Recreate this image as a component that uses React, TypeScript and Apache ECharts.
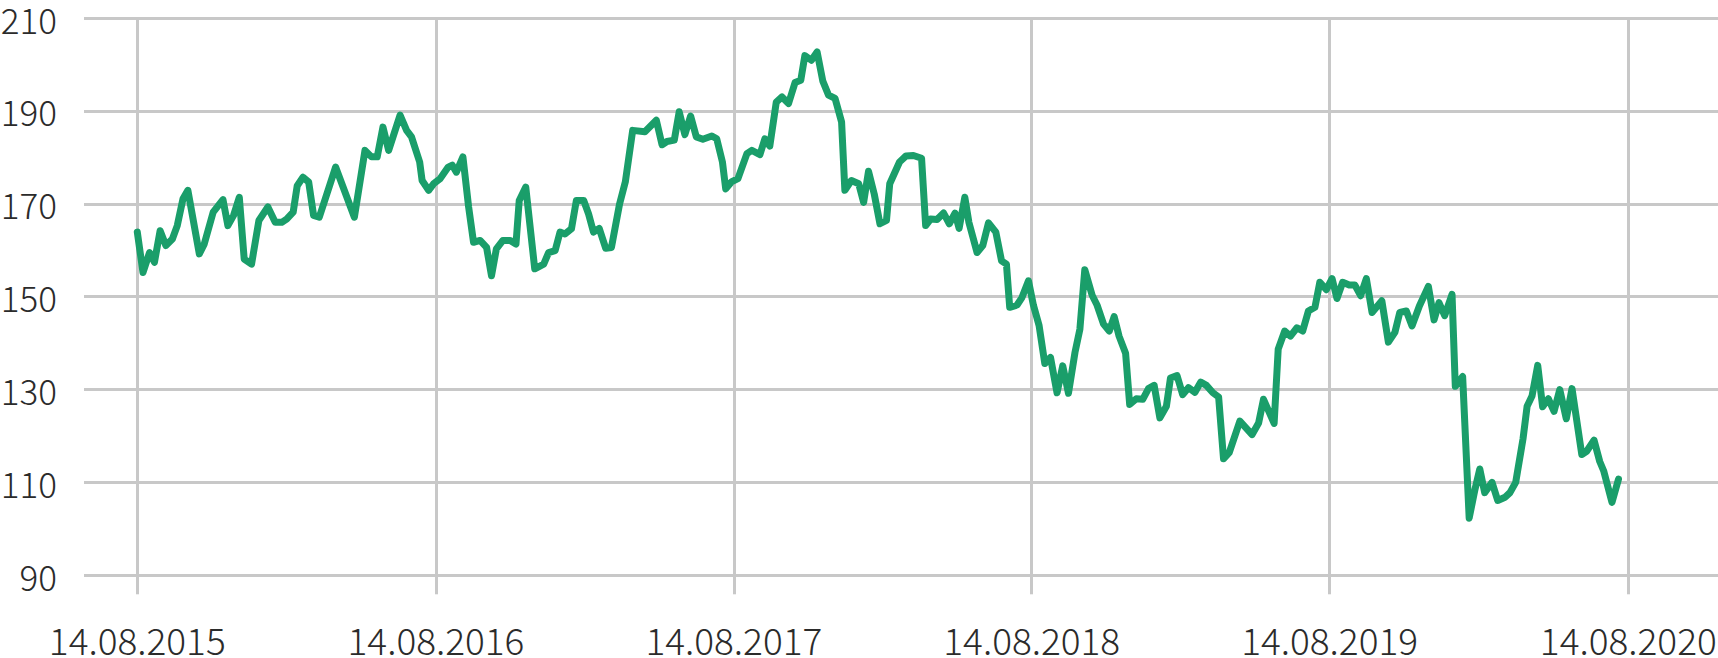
import React, { useEffect, useRef } from "react";
import * as echarts from "echarts";

// Days since 14.08.2015
const dayOffsets = [
  0, 7, 15, 21, 28, 35, 43, 49, 56, 62, 76, 82, 93, 105, 111, 118, 125, 131, 140, 149,
  160, 169, 177, 183, 191, 196, 203, 210, 216, 223, 243, 266, 279, 287, 294, 301, 308, 322, 330, 336,
  346, 349, 357, 363, 371, 381, 386, 391, 399, 406, 412, 420, 428, 434, 440, 448, 457, 464, 468, 476,
  487, 498, 504, 512, 518, 524, 532, 538, 547, 553, 559, 566, 574, 581, 591, 598, 607, 622, 636, 643,
  649, 658, 664, 671, 678, 685, 693, 704, 710, 717, 721, 728, 736, 747, 753, 763, 769, 775, 783, 790,
  798, 806, 813, 818, 826, 833, 840, 847, 855, 863, 867, 875, 884, 890, 896, 903, 910, 918, 922, 934,
  942, 951, 961, 966, 972, 980, 988, 995, 1002, 1007, 1014, 1019, 1029, 1036, 1043, 1052, 1059, 1065, 1069, 1078,
  1084, 1092, 1098, 1105, 1112, 1119, 1127, 1134, 1141, 1149, 1155, 1161, 1170, 1176, 1184, 1191, 1197, 1203, 1211, 1216,
  1224, 1232, 1239, 1246, 1253, 1261, 1266, 1274, 1281, 1288, 1296, 1303, 1310, 1318, 1325, 1331, 1338, 1351, 1366, 1374,
  1380, 1393, 1398, 1406, 1413, 1421, 1428, 1435, 1443, 1449, 1457, 1464, 1470, 1477, 1485, 1492, 1499, 1506, 1513, 1525,
  1533, 1541, 1547, 1555, 1562, 1571, 1582, 1589, 1595, 1602, 1611, 1615, 1624, 1632, 1639, 1645, 1651, 1660, 1667, 1676,
  1682, 1689, 1698, 1703, 1709, 1716, 1722, 1729, 1736, 1743, 1751, 1758, 1770, 1776, 1785, 1792, 1797, 1807, 1815,
];

const prices = [
  163.9, 155.2, 159.5, 157.4, 164.2, 161.0, 162.4, 165.3, 171.1, 172.9, 159.2, 161.3, 168.2, 170.9, 165.3, 167.5, 171.4, 158.1, 157.0, 166.4,
  169.3, 166.0, 166.0, 166.7, 168.2, 173.9, 175.7, 174.7, 167.5, 167.1, 177.9, 167.1, 181.5, 180.1, 180.1, 186.5, 181.5, 189.1, 185.8, 184.4,
  179.0, 175.0, 172.9, 174.3, 175.4, 177.9, 178.3, 176.8, 180.1, 169.3, 161.7, 162.1, 160.6, 154.5, 160.3, 162.1, 162.1, 161.3, 170.7, 173.6,
  156.0, 157.0, 159.5, 159.9, 163.9, 163.5, 164.6, 170.7, 170.7, 167.8, 163.9, 164.7, 160.4, 160.6, 170.0, 174.7, 185.8, 185.5, 188.0, 182.7,
  183.4, 183.7, 189.8, 184.9, 188.9, 184.4, 183.9, 184.6, 184.0, 179.0, 173.2, 174.7, 175.4, 180.8, 181.5, 180.6, 184.0, 182.4, 191.9, 193.0,
  191.6, 196.1, 196.6, 201.9, 200.9, 202.7, 196.4, 193.4, 192.7, 187.6, 172.9, 175.0, 174.3, 170.3, 177.0, 172.1, 165.7, 166.4, 174.3, 179.0,
  180.3, 180.4, 179.8, 165.3, 166.7, 166.6, 168.0, 165.7, 168.0, 164.7, 171.4, 166.0, 159.5, 161.0, 165.9, 163.9, 157.7, 157.0, 147.7, 148.2,
  149.8, 153.4, 148.2, 143.8, 135.6, 136.9, 129.3, 135.1, 129.2, 138.0, 143.0, 155.8, 150.3, 148.2, 144.1, 142.6, 145.7, 141.5, 137.8, 126.8,
  128.0, 127.9, 130.2, 130.9, 123.9, 126.4, 132.5, 133.0, 128.9, 130.4, 129.4, 131.6, 130.9, 129.3, 128.4, 115.1, 116.4, 123.2, 120.3, 122.8,
  127.9, 122.7, 138.7, 142.6, 141.5, 143.3, 142.6, 146.9, 147.7, 153.1, 151.5, 153.9, 149.6, 153.1, 152.5, 152.5, 150.2, 153.9, 146.6, 149.1,
  140.2, 142.3, 146.6, 146.9, 143.7, 148.0, 152.2, 145.0, 148.7, 145.9, 150.5, 130.7, 132.8, 102.3, 108.4, 112.9, 107.8, 110.0, 106.1, 106.8,
  107.8, 110.0, 119.4, 126.4, 128.6, 135.2, 126.3, 128.0, 125.3, 130.0, 123.7, 130.2, 116.0, 116.7, 119.1, 114.5, 112.4, 105.7, 110.7,
];

// x-axis ticks (days since 14.08.2015) and their labels
const tickDays = [0, 366, 731, 1096, 1461, 1827];
const tickLabels = ["14.08.2015", "14.08.2016", "14.08.2017", "14.08.2018", "14.08.2019", "14.08.2020"];

const xMin = -65.3;
const xMax = 1936.9;
const yMin = 90;
const yMax = 210;
const yStep = 20;

const GRID = "#c8c8c8";
const TEXT = "#2b2b2b";
const LINE = "#1a9e6a";
const FONT = "'Noto Sans CJK SC', 'Noto Sans', sans-serif";

export default function App() {
  const ref = useRef<HTMLDivElement>(null);

  useEffect(() => {
    const chart = echarts.init(ref.current!, null, { renderer: "svg" });
    const data = dayOffsets.map((d, i) => [d, prices[i]]);
    chart.setOption({
      animation: false,
      grid: { left: 84, right: 0, top: 18, bottom: 82.7, containLabel: false, outerBoundsMode: "none" },
      xAxis: {
        type: "value",
        min: xMin,
        max: xMax,
        axisLine: { show: false },
        axisTick: {
          show: true,
          customValues: tickDays,
          length: 19,
          lineStyle: { color: GRID, width: 3 },
        },
        axisLabel: {
          customValues: tickDays,
          formatter: (v: number) => {
            const i = tickDays.indexOf(Math.round(v));
            return i >= 0 ? tickLabels[i] : "";
          },
          fontSize: 37,
          lineHeight: 34,
          fontWeight: 300,
          fontFamily: FONT,
          color: TEXT,
          margin: 47,
        },
        splitLine: { show: true, lineStyle: { color: GRID, width: 3 } },
      },
      yAxis: {
        type: "value",
        min: yMin,
        max: yMax,
        interval: yStep,
        axisLine: { show: false },
        axisTick: { show: false },
        axisLabel: {
          fontSize: 35,
          lineHeight: 30,
          fontWeight: 300,
          fontFamily: FONT,
          color: TEXT,
          margin: 27,
        },
        splitLine: { show: true, lineStyle: { color: GRID, width: 3 } },
      },
      series: [
        {
          type: "line",
          data,
          symbol: "none",
          showSymbol: false,
          lineStyle: { color: LINE, width: 7, cap: "round", join: "round" },
        },
      ],
    });
    return () => chart.dispose();
  }, []);

  return (
    <div
      ref={ref}
      style={{ position: "absolute", left: 0, top: 0, width: 1718, height: 658 }}
    />
  );
}
